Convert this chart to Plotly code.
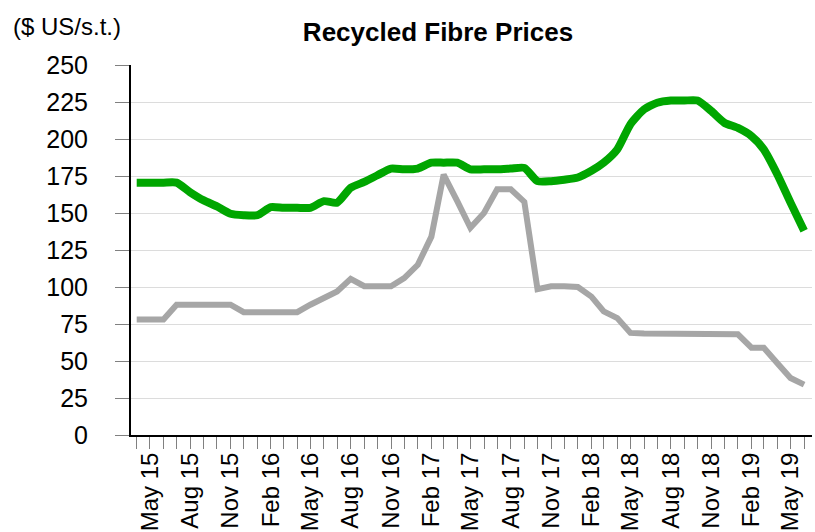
import plotly.graph_objects as go

# Monthly observations, Apr 2015 - Jun 2019
months = [
    "2015-04-01", "2015-05-01", "2015-06-01", "2015-07-01", "2015-08-01", "2015-09-01",
    "2015-10-01", "2015-11-01", "2015-12-01", "2016-01-01", "2016-02-01", "2016-03-01",
    "2016-04-01", "2016-05-01", "2016-06-01", "2016-07-01", "2016-08-01", "2016-09-01",
    "2016-10-01", "2016-11-01", "2016-12-01", "2017-01-01", "2017-02-01", "2017-03-01",
    "2017-04-01", "2017-05-01", "2017-06-01", "2017-07-01", "2017-08-01", "2017-09-01",
    "2017-10-01", "2017-11-01", "2017-12-01", "2018-01-01", "2018-02-01", "2018-03-01",
    "2018-04-01", "2018-05-01", "2018-06-01", "2018-07-01", "2018-08-01", "2018-09-01",
    "2018-10-01", "2018-11-01", "2018-12-01", "2019-01-01", "2019-02-01", "2019-03-01",
    "2019-04-01", "2019-05-01", "2019-06-01",
]

green_series = [
    170.5, 170.5, 170.5, 170.5, 164, 158.5, 154.5, 149.5, 148.5, 148.5, 154, 153.5,
    153.5, 153.5, 158, 157, 167, 171, 175.5, 180, 179.5, 180, 184, 184,
    184, 179.5, 179.5, 179.5, 180, 180.5, 171.5, 171.5, 172.5, 174, 178.5, 184,
    193, 210, 220, 224.5, 226, 226, 226, 219, 211, 207.5, 202, 193,
    176, 157, 138,
]

gray_series = [
    78, 78, 78, 88, 88, 88, 88, 88, 83, 83, 83, 83,
    83, 88, 92.5, 97, 105.5, 100.5, 100.5, 100.5, 106, 115, 134, 176,
    158, 140, 150, 166, 166, 157.5, 98.5, 100.5, 100.5, 100, 93.5, 83.5,
    79, 69, 68.5, 68.5, 68.5, 68.5, 68.5, 68.5, 68.5, 68, 59, 59,
    48.5, 38.5, 34,
]

tick_dates = [
    "2015-05-01", "2015-08-01", "2015-11-01", "2016-02-01", "2016-05-01", "2016-08-01",
    "2016-11-01", "2017-02-01", "2017-05-01", "2017-08-01", "2017-11-01", "2018-02-01",
    "2018-05-01", "2018-08-01", "2018-11-01", "2019-02-01", "2019-05-01",
]
tick_labels = [
    "May 15", "Aug 15", "Nov 15", "Feb 16", "May 16", "Aug 16", "Nov 16", "Feb 17",
    "May 17", "Aug 17", "Nov 17", "Feb 18", "May 18", "Aug 18", "Nov 18", "Feb 19", "May 19",
]

FONT = "Liberation Sans, Arial, sans-serif"

fig = go.Figure()
fig.add_trace(go.Scatter(
    x=months, y=gray_series, mode="lines",
    line=dict(color="#A6A6A6", width=6),
    hoverinfo="x+y",
))
fig.add_trace(go.Scatter(
    x=months, y=green_series, mode="lines",
    line=dict(color="#00A600", width=8, shape="spline", smoothing=0.6),
    hoverinfo="x+y",
))

fig.update_layout(
    width=815, height=532,
    margin=dict(l=131, r=3, t=65, b=97),
    plot_bgcolor="white", paper_bgcolor="white",
    showlegend=False,
    title=dict(
        text="<b>Recycled Fibre Prices</b>",
        font=dict(family=FONT, size=26, color="black"),
        xref="container", x=438 / 815, xanchor="center",
        yref="container", y=1 - 32 / 532, yanchor="middle",
    ),
    annotations=[dict(
        text="($ US/s.t.)", showarrow=False,
        xref="paper", yref="paper",
        x=(11 - 131) / 681, y=(435 - 27) / 370,
        xanchor="left", yanchor="middle",
        font=dict(family=FONT, size=24, color="black"),
    )],
)

fig.update_xaxes(
    type="date",
    range=["2015-03-19", "2019-06-19"],
    tickmode="array", tickvals=tick_dates, ticktext=tick_labels,
    tickangle=-90,
    ticks="outside", ticklen=12, tickcolor="#808080", tickwidth=1,
    showline=True, linecolor="black", linewidth=2,
    showgrid=False, zeroline=False,
    automargin=False,
    ticklabelstandoff=-6,
    tickfont=dict(family=FONT, size=24, color="black"),
    minor=dict(ticks="outside", ticklen=12, dtick="M1", tick0="2015-04-01",
               tickcolor="#808080", tickwidth=1, showgrid=False),
)

fig.update_yaxes(
    range=[0, 250], tick0=0, dtick=25,
    ticks="outside", ticklen=14, tickcolor="#808080", tickwidth=1,
    showline=True, linecolor="black", linewidth=2,
    showgrid=True, gridcolor="#DCDCDC", gridwidth=1,
    zeroline=False,
    automargin=False,
    ticklabelstandoff=22,
    tickfont=dict(family=FONT, size=25, color="black"),
)

fig.write_html("out.html", config={"displayModeBar": False},
               post_script="document.body.style.margin='0';")
